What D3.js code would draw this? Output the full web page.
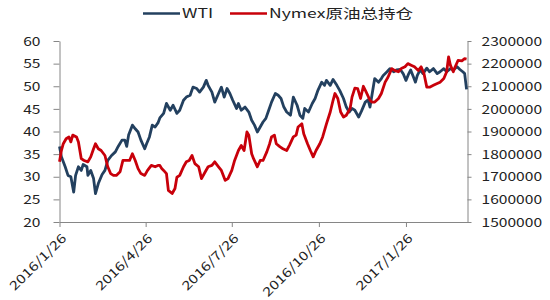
<!DOCTYPE html>
<html>
<head>
<meta charset="utf-8">
<script src="https://cdn.jsdelivr.net/npm/d3@7"></script>
<style>
body { margin: 0; background: #fff; }
svg text { font-family: "Noto Sans CJK SC", "Noto Sans", sans-serif; fill: #222; }
</style>
</head>
<body>
<div id="chart"></div>
<script>
// WTI (left axis)
const wtiDates = [
  "2016-01-26","2016-01-28","2016-02-01","2016-02-04","2016-02-07","2016-02-10","2016-02-12","2016-02-15",
  "2016-02-18","2016-02-20","2016-02-24","2016-02-25","2016-02-28","2016-03-02","2016-03-04","2016-03-07",
  "2016-03-11","2016-03-14","2016-03-17","2016-03-21","2016-03-25","2016-03-28","2016-04-01","2016-04-04",
  "2016-04-06","2016-04-08","2016-04-12","2016-04-15","2016-04-18","2016-04-21","2016-04-25","2016-04-27",
  "2016-04-30","2016-05-03","2016-05-06","2016-05-09","2016-05-11","2016-05-15","2016-05-18","2016-05-22",
  "2016-05-25","2016-05-29","2016-06-01","2016-06-05","2016-06-08","2016-06-12","2016-06-15","2016-06-19",
  "2016-06-22","2016-06-26","2016-06-29","2016-07-01","2016-07-05","2016-07-08","2016-07-12","2016-07-15",
  "2016-07-18","2016-07-21","2016-07-24","2016-07-27","2016-07-31","2016-08-02","2016-08-05","2016-08-09",
  "2016-08-13","2016-08-16","2016-08-19","2016-08-22","2016-08-25","2016-08-28","2016-08-31","2016-09-03",
  "2016-09-06","2016-09-10","2016-09-13","2016-09-16","2016-09-19","2016-09-22","2016-09-26","2016-09-29",
  "2016-10-03","2016-10-06","2016-10-09","2016-10-11","2016-10-15","2016-10-19","2016-10-22","2016-10-25",
  "2016-10-29","2016-11-01","2016-11-03","2016-11-07","2016-11-10","2016-11-14","2016-11-17","2016-11-21",
  "2016-11-24","2016-11-27","2016-11-30","2016-12-03","2016-12-07","2016-12-10","2016-12-14","2016-12-17",
  "2016-12-19","2016-12-23","2016-12-24","2016-12-28","2016-12-31","2017-01-02","2017-01-06","2017-01-09",
  "2017-01-13","2017-01-16","2017-01-20","2017-01-23","2017-01-26","2017-01-29","2017-01-31","2017-02-03",
  "2017-02-05","2017-02-07","2017-02-10","2017-02-13","2017-02-17","2017-02-20","2017-02-24","2017-02-28",
  "2017-03-03","2017-03-07","2017-03-10","2017-03-14","2017-03-17","2017-03-21","2017-03-24","2017-03-27",
  "2017-03-29","2017-03-31"
];
const wtiValues = [
  36.7,34.4,32.2,30.3,30.0,26.6,30.3,32.2,
  31.4,32.7,32.2,30.3,31.4,29.6,26.3,28.5,
  30.5,31.4,33.6,34.7,35.5,36.7,38.1,38.1,
  36.7,39.2,41.4,40.6,39.9,38.1,36.2,37.3,
  38.8,41.4,41.0,41.9,43.0,44.0,46.2,44.7,
  45.8,44.0,44.7,46.9,47.6,48.0,49.8,49.5,
  48.7,49.8,51.3,50.2,48.7,46.5,48.4,49.8,
  47.6,49.5,48.4,46.9,45.1,46.2,44.7,45.4,
  44.3,42.5,41.4,39.9,41.0,42.1,42.9,44.7,
  46.5,48.4,48.0,47.3,45.4,44.3,43.6,47.6,
  45.8,43.6,42.9,45.1,44.3,46.2,47.3,49.1,
  50.9,50.2,51.3,50.2,51.5,50.2,49.1,47.3,
  45.4,44.3,45.1,44.7,43.2,44.5,46.5,47.0,
  45.4,50.5,51.7,50.9,51.7,52.4,53.2,53.9,
  53.2,53.6,53.7,52.8,51.3,52.8,53.6,52.0,
  50.9,52.4,53.6,52.8,54.0,53.2,53.9,52.8,
  53.2,53.9,53.2,53.9,53.6,54.3,53.7,53.2,
  52.8,49.3
];

// Nymex open interest (right axis)
const oiDates = [
  "2016-01-26","2016-01-28","2016-01-30","2016-02-02","2016-02-05","2016-02-07","2016-02-09","2016-02-13",
  "2016-02-15","2016-02-18","2016-02-21","2016-02-25","2016-02-28","2016-03-02","2016-03-04","2016-03-07",
  "2016-03-10","2016-03-14","2016-03-17","2016-03-20","2016-03-23","2016-03-26","2016-03-30","2016-04-02",
  "2016-04-06","2016-04-09","2016-04-12","2016-04-15","2016-04-18","2016-04-21","2016-04-25","2016-04-28",
  "2016-05-02","2016-05-06","2016-05-09","2016-05-11","2016-05-13","2016-05-15","2016-05-18","2016-05-20",
  "2016-05-24","2016-05-27","2016-05-29","2016-06-01","2016-06-05","2016-06-08","2016-06-11","2016-06-14",
  "2016-06-17","2016-06-21","2016-06-24","2016-06-28","2016-07-01","2016-07-05","2016-07-08","2016-07-12",
  "2016-07-15","2016-07-19","2016-07-22","2016-07-26","2016-07-29","2016-08-02","2016-08-05","2016-08-08",
  "2016-08-11","2016-08-13","2016-08-16","2016-08-18","2016-08-22","2016-08-25","2016-08-28","2016-09-01",
  "2016-09-04","2016-09-06","2016-09-09","2016-09-11","2016-09-15","2016-09-18","2016-09-22","2016-09-25",
  "2016-09-29","2016-10-02","2016-10-04","2016-10-08","2016-10-10","2016-10-14","2016-10-17","2016-10-20",
  "2016-10-23","2016-10-27","2016-10-30","2016-11-03","2016-11-07","2016-11-10","2016-11-12","2016-11-15",
  "2016-11-18","2016-11-21","2016-11-24","2016-11-28","2016-11-30","2016-12-03","2016-12-06","2016-12-09",
  "2016-12-12","2016-12-15","2016-12-19","2016-12-21","2016-12-24","2016-12-28","2016-12-31","2017-01-04",
  "2017-01-07","2017-01-11","2017-01-14","2017-01-18","2017-01-21","2017-01-25","2017-01-28","2017-02-01",
  "2017-02-04","2017-02-08","2017-02-11","2017-02-14","2017-02-17","2017-02-20","2017-02-24","2017-02-28",
  "2017-03-03","2017-03-07","2017-03-10","2017-03-12","2017-03-14","2017-03-17","2017-03-19","2017-03-22",
  "2017-03-26","2017-03-29","2017-03-31"
];
const oiValues = [
  1766000,1816000,1846000,1868000,1876000,1854000,1884000,1876000,
  1854000,1780000,1772000,1766000,1788000,1824000,1846000,1824000,
  1816000,1794000,1744000,1714000,1706000,1706000,1722000,1772000,
  1772000,1772000,1802000,1772000,1736000,1714000,1706000,1728000,
  1750000,1744000,1750000,1750000,1736000,1728000,1714000,1640000,
  1626000,1648000,1698000,1706000,1744000,1766000,1772000,1794000,
  1758000,1744000,1692000,1722000,1744000,1750000,1766000,1744000,
  1728000,1684000,1692000,1728000,1772000,1816000,1838000,1816000,
  1898000,1884000,1802000,1780000,1744000,1772000,1772000,1810000,
  1846000,1876000,1884000,1846000,1832000,1824000,1816000,1840000,
  1876000,1884000,1920000,1934000,1890000,1846000,1816000,1788000,
  1816000,1846000,1876000,1934000,1986000,2038000,2068000,2046000,
  1986000,1964000,1972000,2002000,2052000,2092000,2090000,2046000,
  2100000,2074000,2038000,2030000,2030000,2046000,2068000,2118000,
  2140000,2178000,2170000,2164000,2178000,2186000,2200000,2192000,
  2186000,2170000,2186000,2156000,2096000,2096000,2104000,2112000,
  2118000,2134000,2164000,2230000,2192000,2164000,2186000,2214000,
  2212000,2222000,2220000
];

const seriesNames = ["WTI", "Nymex原油总持仓"];
const seriesColors = ["#23405f", "#c8000a"];
const leftTicks = [20, 25, 30, 35, 40, 45, 50, 55, 60];
const rightTicks = [1500000, 1600000, 1700000, 1800000, 1900000, 2000000, 2100000, 2200000, 2300000];
const xTickLabels = ["2016/1/26", "2016/4/26", "2016/7/26", "2016/10/26", "2017/1/26"];

function drawChart() {
    const width = 550, height = 300;
    const left = 59.5, right = 467.5, top = 41, bottom = 222;
    const axisColor = '#868686';

    const svg = d3.select('#chart').append('svg')
        .attr('width', width)
        .attr('height', height);

    const parse = d3.timeParse('%Y-%m-%d');
    const parseTick = d3.timeParse('%Y/%m/%d');

    const x = d3.scaleTime()
        .domain([parse('2016-01-26'), parse('2017-04-01')])
        .range([left, right]);
    const yLeft = d3.scaleLinear().domain([20, 60]).range([bottom, top]);
    const yRight = d3.scaleLinear().domain([1500000, 2300000]).range([bottom, top]);

    // axes
    const gl = svg.append('g')
        .attr('transform', `translate(${left},0)`)
        .call(d3.axisLeft(yLeft).tickValues(leftTicks).tickSize(6).tickSizeOuter(0));
    gl.selectAll('text')
        .attr('x', null).attr('dy', '0.35em')
        .attr('transform', 'translate(-19,0) scale(1.3,1)');

    const gr = svg.append('g')
        .attr('transform', `translate(${right},0)`)
        .call(d3.axisRight(yRight).tickValues(rightTicks).tickFormat(d3.format('d'))
            .tickSize(4).tickSizeOuter(0));
    gr.selectAll('text')
        .attr('x', null).attr('dy', '0.35em')
        .attr('transform', 'translate(14,0) scale(1.3,1)');

    const gb = svg.append('g')
        .attr('transform', `translate(0,${bottom})`)
        .call(d3.axisBottom(x)
            .tickValues(xTickLabels.map(parseTick))
            .tickFormat((d, i) => xTickLabels[i])
            .tickSize(5).tickSizeOuter(0));
    gb.selectAll('text')
        .attr('y', null).attr('dy', '0.35em')
        .attr('text-anchor', 'end')
        .attr('transform', 'translate(4,14) rotate(-45) scale(1.32,1.05)');

    svg.selectAll('.domain, .tick line').attr('stroke', axisColor);
    svg.selectAll('.tick text').attr('font-size', 12).attr('fill', '#222');

    // lines
    const wti = wtiDates.map((d, i) => ({ date: parse(d), value: wtiValues[i] }));
    const oi = oiDates.map((d, i) => ({ date: parse(d), value: oiValues[i] }));

    svg.append('path')
        .datum(wti)
        .attr('fill', 'none')
        .attr('stroke', seriesColors[0])
        .attr('stroke-width', 2.8)
        .attr('stroke-linejoin', 'round')
        .attr('d', d3.line().x(d => x(d.date)).y(d => yLeft(d.value)));

    svg.append('path')
        .datum(oi)
        .attr('fill', 'none')
        .attr('stroke', seriesColors[1])
        .attr('stroke-width', 2.8)
        .attr('stroke-linejoin', 'round')
        .attr('d', d3.line().x(d => x(d.date)).y(d => yRight(d.value)));

    // legend
    const legendX = [143, 230];
    const legend = svg.append('g');
    seriesNames.forEach((name, i) => {
        legend.append('line')
            .attr('x1', legendX[i]).attr('x2', legendX[i] + 37)
            .attr('y1', 13.5).attr('y2', 13.5)
            .attr('stroke', seriesColors[i])
            .attr('stroke-width', 2.5);
        legend.append('text')
            .attr('transform', `translate(${legendX[i] + 39},13.5) scale(1.35,1)`)
            .attr('dy', '0.35em')
            .attr('font-size', 13)
            .text(name);
    });
}

drawChart();
</script>
</body>
</html>
